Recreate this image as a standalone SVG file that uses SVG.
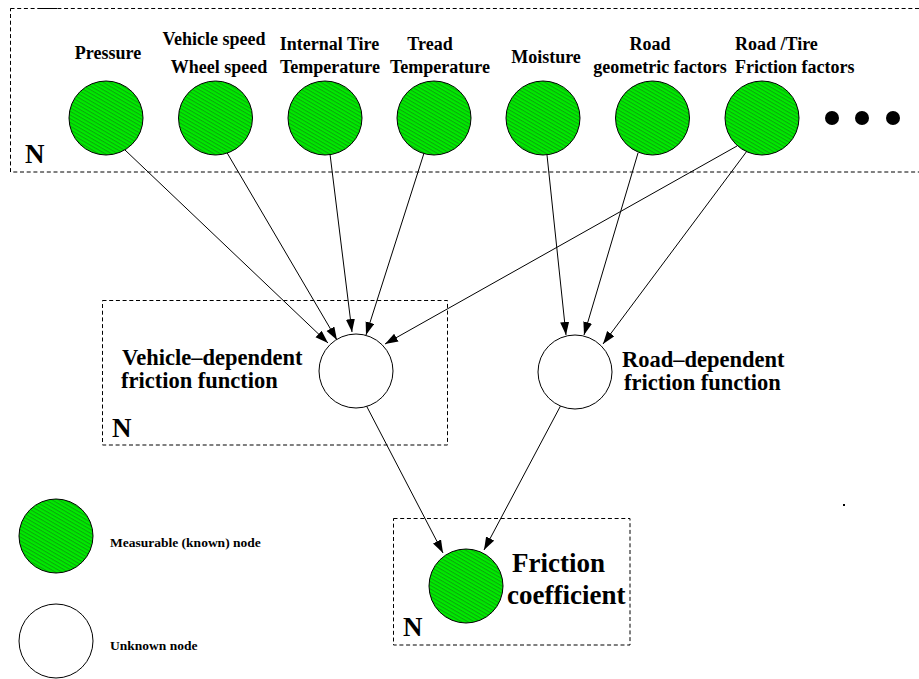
<svg xmlns="http://www.w3.org/2000/svg" width="919" height="679" viewBox="0 0 919 679">
  <style>
    .lbl { font-family: "Liberation Serif", "Times New Roman", serif; font-weight: bold; fill: #000; }
    .top { font-size: 18px; text-anchor: middle; }
    .start { text-anchor: start; }
    .mid { font-size: 22.5px; }
    .big { font-size: 27px; }
    .leg { font-size: 13.5px; }
    .known { fill: url(#hatch); stroke: #000; stroke-width: 1; }
    .unknown { fill: #fff; stroke: #000; stroke-width: 1; }
    .plate { fill: none; stroke: #000; stroke-width: 1; stroke-dasharray: 4 2.7; }
    .edge { fill: none; stroke: #000; stroke-width: 1; marker-end: url(#arrow); }
  </style>
  <defs>
    <!-- green fill with fine 30-degree hatching -->
    <pattern id="hatch" width="6" height="3.2" patternUnits="userSpaceOnUse" patternTransform="rotate(30)">
      <rect width="6" height="3.2" fill="#00ea00"/>
      <line x1="0" y1="0.6" x2="6" y2="0.6" stroke="#137a13" stroke-width="0.7"/>
    </pattern>
    <marker id="arrow" markerUnits="userSpaceOnUse" markerWidth="14" markerHeight="10" refX="13" refY="4.5" orient="auto">
      <path d="M0,0 L13,4.5 L0,9 Z" fill="#000"/>
    </marker>
  </defs>

  <rect width="919" height="679" fill="#fff"/>

  <!-- plates -->
  <g id="plate-inputs">
    <rect class="plate" x="10.5" y="8.5" width="930" height="163.5"/>
    <line x1="40" y1="8.5" x2="57" y2="8.5" stroke="#000" stroke-width="1"/>
    <text class="lbl big" x="25" y="163">N</text>
  </g>
  <g id="plate-vehicle">
    <rect class="plate" x="102.5" y="300.5" width="345" height="144.5"/>
    <text class="lbl big" x="112" y="437">N</text>
  </g>
  <g id="plate-friction">
    <rect class="plate" x="393.5" y="518.5" width="236.5" height="126.5"/>
    <text class="lbl big" x="403" y="636">N</text>
  </g>

  <!-- connectors -->
  <g id="connectors">
    <line class="edge" x1="125" y1="150" x2="328" y2="343"/>
    <line class="edge" x1="226" y1="151" x2="337" y2="340"/>
    <line class="edge" x1="330" y1="154" x2="352" y2="332"/>
    <line class="edge" x1="425" y1="150" x2="366" y2="335"/>
    <line class="edge" x1="737" y1="146" x2="385" y2="344"/>
    <line class="edge" x1="547" y1="155" x2="566" y2="335"/>
    <line class="edge" x1="638" y1="153" x2="584" y2="335"/>
    <line class="edge" x1="747" y1="151" x2="603" y2="344"/>
    <line class="edge" x1="366" y1="405" x2="443" y2="553"/>
    <line class="edge" x1="561" y1="405" x2="484" y2="550"/>
  </g>

  <!-- measurable input nodes -->
  <g id="pressure">
    <circle class="known" cx="106" cy="118" r="37"/>
    <text class="lbl top" x="108" y="59">Pressure</text>
  </g>
  <g id="speed">
    <circle class="known" cx="215.5" cy="118" r="37"/>
    <text class="lbl top" x="214" y="45">Vehicle speed</text>
    <text class="lbl top" x="219" y="73">Wheel speed</text>
  </g>
  <g id="internal-temp">
    <circle class="known" cx="325" cy="118" r="37"/>
    <text class="lbl top" x="329.5" y="50">Internal Tire</text>
    <text class="lbl top" x="330" y="73">Temperature</text>
  </g>
  <g id="tread-temp">
    <circle class="known" cx="434" cy="118" r="37"/>
    <text class="lbl top" x="430" y="50">Tread</text>
    <text class="lbl top" x="440" y="73">Temperature</text>
  </g>
  <g id="moisture">
    <circle class="known" cx="543" cy="118" r="37"/>
    <text class="lbl top" x="546" y="63">Moisture</text>
  </g>
  <g id="road-geometry">
    <circle class="known" cx="652.5" cy="118" r="37"/>
    <text class="lbl top" x="650" y="50">Road</text>
    <text class="lbl top" x="660" y="73">geometric factors</text>
  </g>
  <g id="road-tire">
    <circle class="known" cx="762" cy="118" r="37"/>
    <text class="lbl top start" x="735" y="50">Road /Tire</text>
    <text class="lbl top start" x="735" y="73">Friction factors</text>
  </g>
  <g id="more">
    <circle cx="832" cy="118" r="7" fill="#000"/>
    <circle cx="862" cy="118" r="7" fill="#000"/>
    <circle cx="893" cy="118" r="7" fill="#000"/>
  </g>

  <!-- hidden friction functions -->
  <g id="vehicle-function">
    <circle class="unknown" cx="356" cy="371" r="37"/>
    <text class="lbl mid" x="122" y="365">Vehicle–dependent</text>
    <text class="lbl mid" x="121" y="388">friction function</text>
  </g>
  <g id="road-function">
    <circle class="unknown" cx="575" cy="372" r="37"/>
    <text class="lbl mid" x="622" y="367">Road–dependent</text>
    <text class="lbl mid" x="624" y="390">friction function</text>
  </g>

  <!-- output -->
  <g id="friction-coefficient">
    <circle class="known" cx="466" cy="586" r="37"/>
    <text class="lbl big" x="512" y="572">Friction</text>
    <text class="lbl big" x="507" y="604">coefficient</text>
  </g>

  <rect x="843" y="504" width="2" height="2" fill="#000"/>

  <!-- legend -->
  <g id="legend-known">
    <circle class="known" cx="56" cy="536" r="37"/>
    <text class="lbl leg" x="110" y="547">Measurable (known) node</text>
  </g>
  <g id="legend-unknown">
    <circle class="unknown" cx="56" cy="641" r="37"/>
    <text class="lbl leg" x="110" y="650">Unknown node</text>
  </g>
</svg>
